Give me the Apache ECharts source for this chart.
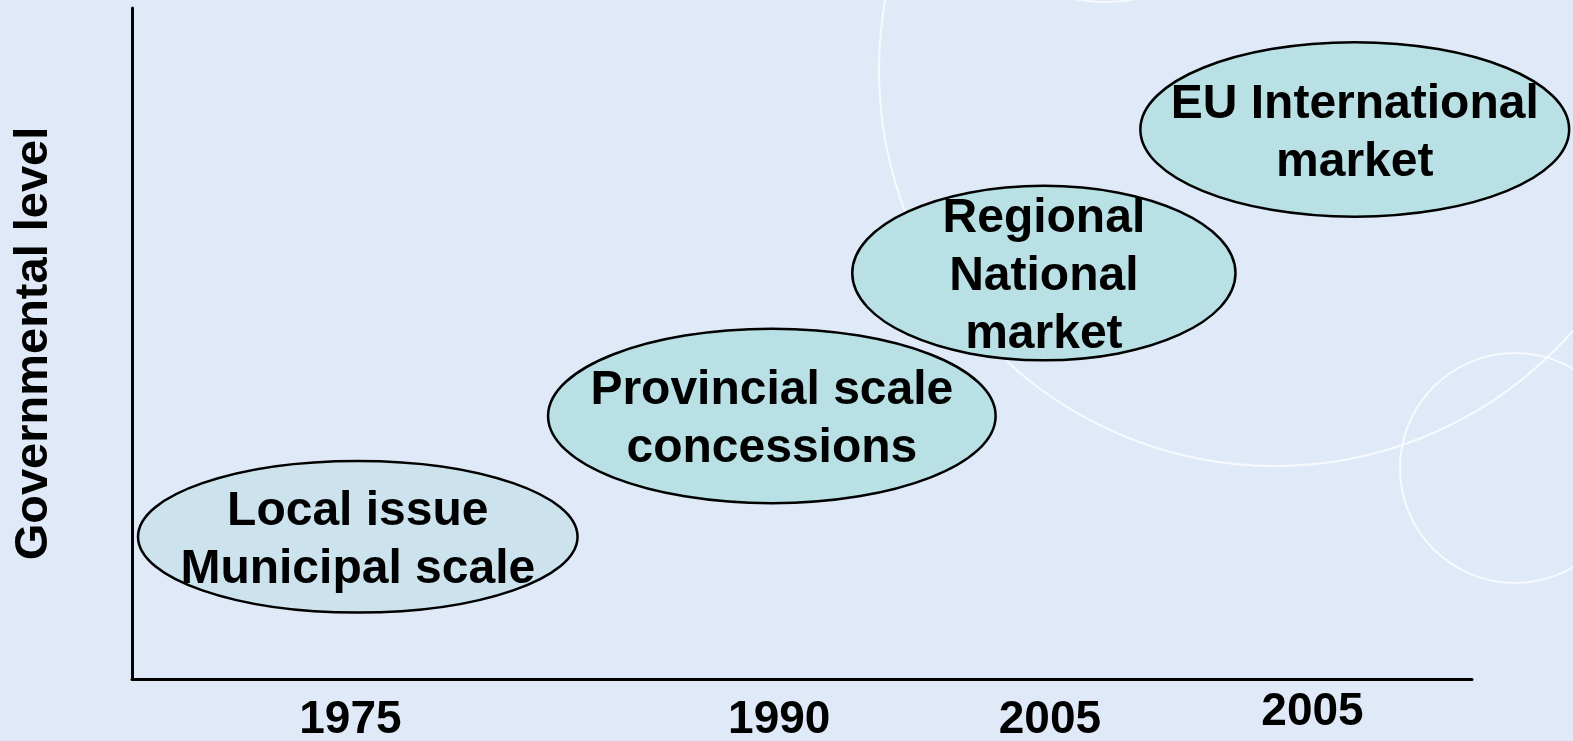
<!DOCTYPE html>
<html>
<head>
<meta charset="utf-8">
<style>
  html, body { margin: 0; padding: 0; background: #dfe9f8; }
  #main { width: 1573px; height: 741px; }
</style>
<script src="https://cdn.jsdelivr.net/npm/echarts@6/dist/echarts.min.js"></script>
</head>
<body>
<div id="main"></div>
<script>
// stages of the market, placed on (period, governmental level)
var stageNames = ['Local issue\nMunicipal scale', 'Provincial scale\nconcessions', 'Regional\nNational\nmarket', 'EU International\nmarket'];
var stagePeriod = [16.85, 47.75, 68.05, 91.25];
var stageLevel = [21.2, 39.2, 60.5, 81.9];
// half widths / half heights of the ellipses, in axis units
var stageSpanX = [16.4, 16.7, 14.3, 16.0];
var stageSpanY = [11.3, 13.0, 13.0, 13.0];

// year labels under the axis
var yearLabels = ['1975', '1990', '2005', '2005'];
var yearPeriod = [16.3, 48.3, 68.5, 88.1];

var FONT = '"Liberation Sans", Arial, Helvetica, sans-serif';
var fills = ['#cce3ee', '#b9e0e4', '#b9e0e4', '#b9e0e4'];
var yearDy = [0, 0, 0, -8];

var myChart = echarts.init(document.getElementById('main'));

var stageData = stageNames.map(function (n, i) {
    return [stagePeriod[i], stageLevel[i], stageSpanX[i], stageSpanY[i], n];
});
var yearData = yearLabels.map(function (y, i) {
    return [yearPeriod[i], 0, y];
});

var option = {
    backgroundColor: '#dfe9f8',
    animation: false,
    graphic: [
        // faint decorative circles in the background
        { type: 'circle', silent: true, z: -10, shape: { cx: 1275, cy: 70, r: 396 },
          style: { fill: 'none', stroke: 'rgba(255,255,255,0.75)', lineWidth: 2 } },
        { type: 'circle', silent: true, z: -10, shape: { cx: 1515, cy: 468, r: 115 },
          style: { fill: 'none', stroke: 'rgba(255,255,255,0.75)', lineWidth: 2 } },
        { type: 'circle', silent: true, z: -10, shape: { cx: 1105, cy: -160, r: 162 },
          style: { fill: 'none', stroke: 'rgba(255,255,255,0.75)', lineWidth: 2 } }
    ],
    grid: {
        left: 132,
        right: 101,
        top: 8,
        bottom: 62
    },
    xAxis: {
        type: 'value',
        min: 0,
        max: 100,
        axisLine: { show: true, onZero: false, lineStyle: { color: '#000', width: 3 } },
        axisTick: { show: false },
        axisLabel: { show: false },
        splitLine: { show: false }
    },
    yAxis: {
        type: 'value',
        min: 0,
        max: 100,
        name: 'Governmental level',
        nameLocation: 'middle',
        nameRotate: 90,
        nameGap: 74,
        nameTextStyle: { color: '#000', fontSize: 47, fontWeight: 'bold', fontFamily: FONT },
        axisLine: { show: true, onZero: false, lineStyle: { color: '#000', width: 3 } },
        axisTick: { show: false },
        axisLabel: { show: false },
        splitLine: { show: false }
    },
    series: [
        {
            name: 'stages',
            type: 'custom',
            clip: false,
            data: stageData,
            renderItem: function (params, api) {
                var c = api.coord([api.value(0), api.value(1)]);
                var s = api.size([api.value(2), api.value(3)]);
                return {
                    type: 'group',
                    children: [
                        {
                            type: 'ellipse',
                            shape: { cx: c[0], cy: c[1], rx: s[0], ry: s[1] },
                            style: { fill: fills[params.dataIndex], stroke: '#000', lineWidth: 2.5 }
                        },
                        {
                            type: 'text',
                            z2: 10,
                            style: {
                                text: stageNames[params.dataIndex],
                                x: c[0],
                                y: c[1] + 4,
                                align: 'center',
                                verticalAlign: 'middle',
                                fill: '#000',
                                fontSize: 48,
                                fontWeight: 'bold',
                                fontFamily: FONT,
                                lineHeight: 58
                            }
                        }
                    ]
                };
            }
        },
        {
            name: 'years',
            type: 'custom',
            clip: false,
            data: yearData,
            renderItem: function (params, api) {
                var c = api.coord([api.value(0), api.value(1)]);
                return {
                    type: 'text',
                    style: {
                        text: yearLabels[params.dataIndex],
                        x: c[0],
                        y: c[1] + 41 + yearDy[params.dataIndex],
                        align: 'center',
                        verticalAlign: 'middle',
                        fill: '#000',
                        fontSize: 46,
                        fontWeight: 'bold',
                        fontFamily: FONT
                    }
                };
            }
        }
    ]
};
myChart.setOption(option);
</script>
</body>
</html>
